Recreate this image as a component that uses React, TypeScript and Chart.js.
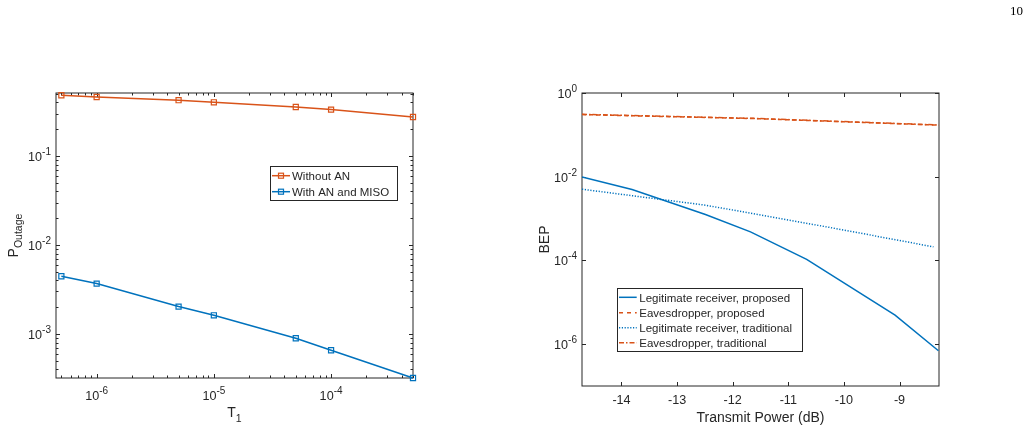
import React, { useEffect, useRef } from 'react';
import { Chart, registerables } from 'chart.js';

Chart.register(...registerables);

const FONT = '"Liberation Sans", Arial, Helvetica, sans-serif';
const TEXT = '#262626';
const ORANGE = '#D95319';
const BLUE = '#0072BD';

// ---------- Left panel data ----------
const t1Values = [5e-7, 1e-6, 5e-6, 1e-5, 5e-5, 1e-4, 5e-4];
const withoutAN = [0.481, 0.46, 0.423, 0.401, 0.355, 0.332, 0.274];
const withANMISO = [0.00445, 0.00368, 0.00203, 0.00162, 0.000895, 0.000656, 0.00032];
const leftXTickValues = [1e-6, 1e-5, 1e-4];
const leftXTickExps = ['-6', '-5', '-4'];
const leftYTickValues = [1e-1, 1e-2, 1e-3];
const leftYTickExps = ['-1', '-2', '-3'];
const leftLegendLabels = ['Without AN', 'With AN and MISO'];

// ---------- Right panel data ----------
const legitProposedX = [-14.71, -13.81, -12.49, -11.68, -10.67, -9.08, -8.3];
const legitProposedY = [0.0099, 0.00495, 0.00125, 0.000482, 0.000106, 4.95e-6, 6.95e-7];
const eveProposedX = [-14.71, -11.63, -8.29];
const eveProposedY = [0.305, 0.245, 0.17];
const legitTraditionalX = [-14.71, -13.6, -12.49, -11.38, -10.25, -8.39];
const legitTraditionalY = [0.00503, 0.00324, 0.00209, 0.00114, 0.000613, 0.000211];
const eveTraditionalX = [-14.71, -11.63, -8.29];
const eveTraditionalY = [0.31, 0.248, 0.172];
const rightXTickValues = [-14, -13, -12, -11, -10, -9];
const rightXTickLabels = ['-14', '-13', '-12', '-11', '-10', '-9'];
const rightYTickValues = [1, 1e-2, 1e-4, 1e-6];
const rightYTickExps = ['0', '-2', '-4', '-6'];
const rightLegendLabels = [
  'Legitimate receiver, proposed',
  'Eavesdropper, proposed',
  'Legitimate receiver, traditional',
  'Eavesdropper, traditional',
];

const TICK_FS = 12.6;
const EXP_FS = 10;
const TITLE_FS = 14;
const SUB_FS = 10.5;
const LEG_FS = 11.5;

type Tick = { value: number; exp?: string; text?: string };
type LegendItem = { label: string; color: string; dash: number[]; marker?: boolean };
type AxesCfg = {
  xLog: boolean;
  yLog: boolean;
  xMinor: boolean;
  yMinor: boolean;
  xTicks: Tick[];
  yTicks: Tick[];
  xTickDy: number;
  xTitle: { main: string; sub?: string; dy: number; subDy?: number };
  yTitle: { main: string; sub?: string; x: number; subDy?: number };
  legend: { x: number; y: number; w: number; h: number; rows: number[]; sampleX0: number; sampleX1: number; textX: number; items: LegendItem[] };
};

function pts(xs: number[], ys: number[]) {
  return xs.map((x, i) => ({ x, y: ys[i] }));
}

function minorLogValues(min: number, max: number) {
  const out: number[] = [];
  for (let n = Math.floor(Math.log10(min)) - 1; n <= Math.ceil(Math.log10(max)); n++) {
    for (let k = 2; k <= 9; k++) {
      const v = k * Math.pow(10, n);
      if (v >= min * 0.999 && v <= max * 1.001) out.push(v);
    }
  }
  return out;
}

function drawPow(ctx: CanvasRenderingContext2D, exp: string, x: number, y: number, align: 'center' | 'right') {
  ctx.font = `${TICK_FS}px ${FONT}`;
  const bw = ctx.measureText('10').width;
  ctx.font = `${EXP_FS}px ${FONT}`;
  const ew = ctx.measureText(exp).width;
  const total = bw + ew;
  const x0 = align === 'center' ? x - total / 2 : x - total;
  ctx.textAlign = 'left';
  ctx.textBaseline = 'alphabetic';
  ctx.font = `${TICK_FS}px ${FONT}`;
  ctx.fillText('10', x0, y);
  ctx.font = `${EXP_FS}px ${FONT}`;
  ctx.fillText(exp, x0 + bw, y - 6);
}

function drawTitle(ctx: CanvasRenderingContext2D, main: string, sub: string | undefined, cx: number, baseline: number, subDy: number) {
  ctx.font = `${TITLE_FS}px ${FONT}`;
  const mw = ctx.measureText(main).width;
  let sw = 0;
  if (sub) {
    ctx.font = `${SUB_FS}px ${FONT}`;
    sw = ctx.measureText(sub).width;
  }
  const x0 = cx - (mw + sw) / 2;
  ctx.textAlign = 'left';
  ctx.textBaseline = 'alphabetic';
  ctx.font = `${TITLE_FS}px ${FONT}`;
  ctx.fillText(main, x0, baseline);
  if (sub) {
    ctx.font = `${SUB_FS}px ${FONT}`;
    ctx.fillText(sub, x0 + mw, baseline + subDy);
  }
}

function makeAxesPlugin(id: string, cfg: AxesCfg) {
  return {
    id,
    beforeDatasetsDraw(chart: any) {
      const ctx: CanvasRenderingContext2D = chart.ctx;
      const { left, top, right, bottom } = chart.chartArea;
      const xs = chart.scales.x;
      const ys = chart.scales.y;
      ctx.save();
      // box
      ctx.strokeStyle = TEXT;
      ctx.lineWidth = 1;
      ctx.strokeRect(left, top, right - left, bottom - top);
      // ticks
      const MAJ = 4;
      const MIN = 2.5;
      ctx.beginPath();
      const xTick = (v: number, len: number) => {
        const p = Math.round(xs.getPixelForValue(v)) + 0.5;
        ctx.moveTo(p, bottom);
        ctx.lineTo(p, bottom - len);
        ctx.moveTo(p, top);
        ctx.lineTo(p, top + len);
      };
      const yTick = (v: number, len: number) => {
        const p = Math.round(ys.getPixelForValue(v)) + 0.5;
        ctx.moveTo(left, p);
        ctx.lineTo(left + len, p);
        ctx.moveTo(right, p);
        ctx.lineTo(right - len, p);
      };
      cfg.xTicks.forEach((t) => xTick(t.value, MAJ));
      cfg.yTicks.forEach((t) => yTick(t.value, MAJ));
      if (cfg.xMinor) minorLogValues(xs.min, xs.max).forEach((v) => xTick(v, MIN));
      if (cfg.yMinor) minorLogValues(ys.min, ys.max).forEach((v) => yTick(v, MIN));
      ctx.stroke();
      // tick labels
      ctx.fillStyle = TEXT;
      cfg.xTicks.forEach((t) => {
        const p = xs.getPixelForValue(t.value);
        if (t.exp !== undefined) {
          drawPow(ctx, t.exp, p, bottom + cfg.xTickDy, 'center');
        } else if (t.text !== undefined) {
          ctx.font = `${TICK_FS}px ${FONT}`;
          ctx.textAlign = 'center';
          ctx.textBaseline = 'alphabetic';
          ctx.fillText(t.text, p, bottom + cfg.xTickDy);
        }
      });
      cfg.yTicks.forEach((t) => {
        const p = ys.getPixelForValue(t.value);
        if (t.exp !== undefined) drawPow(ctx, t.exp, p === p ? left - 5 : 0, p + 5, 'right');
      });
      // axis titles
      drawTitle(ctx, cfg.xTitle.main, cfg.xTitle.sub, (left + right) / 2, bottom + cfg.xTitle.dy, cfg.xTitle.subDy || 0);
      ctx.save();
      ctx.translate(cfg.yTitle.x, (top + bottom) / 2);
      ctx.rotate(-Math.PI / 2);
      drawTitle(ctx, cfg.yTitle.main, cfg.yTitle.sub, 0, 0, cfg.yTitle.subDy || 0);
      ctx.restore();
      ctx.restore();
    },
    afterDatasetsDraw(chart: any) {
      const ctx: CanvasRenderingContext2D = chart.ctx;
      const L = cfg.legend;
      ctx.save();
      ctx.fillStyle = '#ffffff';
      ctx.fillRect(L.x, L.y, L.w, L.h);
      ctx.strokeStyle = TEXT;
      ctx.lineWidth = 1;
      ctx.strokeRect(Math.round(L.x) + 0.5, Math.round(L.y) + 0.5, Math.round(L.w), Math.round(L.h));
      L.items.forEach((it, i) => {
        const cy = L.rows[i];
        ctx.strokeStyle = it.color;
        ctx.lineWidth = 1.5;
        ctx.setLineDash(it.dash);
        ctx.beginPath();
        ctx.moveTo(L.sampleX0, cy);
        ctx.lineTo(L.sampleX1, cy);
        ctx.stroke();
        ctx.setLineDash([]);
        if (it.marker) {
          const mx = (L.sampleX0 + L.sampleX1) / 2;
          ctx.lineWidth = 1.2;
          ctx.strokeRect(mx - 2.5, cy - 2.5, 5, 5);
        }
        ctx.fillStyle = TEXT;
        ctx.font = `${LEG_FS}px ${FONT}`;
        ctx.textAlign = 'left';
        ctx.textBaseline = 'alphabetic';
        ctx.fillText(it.label, L.textX, cy + 4.2);
      });
      ctx.restore();
    },
  };
}

function LeftChart() {
  const ref = useRef<HTMLCanvasElement | null>(null);
  useEffect(() => {
    if (!ref.current) return;
    const cfg: AxesCfg = {
      xLog: true,
      yLog: true,
      xMinor: true,
      yMinor: true,
      xTicks: leftXTickValues.map((v, i) => ({ value: v, exp: leftXTickExps[i] })),
      yTicks: leftYTickValues.map((v, i) => ({ value: v, exp: leftYTickExps[i] })),
      xTickDy: 22,
      xTitle: { main: 'T', sub: '1', dy: 39, subDy: 5 },
      yTitle: { main: 'P', sub: 'Outage', x: 18, subDy: 4 },
      legend: {
        x: 270, y: 166, w: 126.5, h: 34,
        rows: [175.7, 191.7],
        sampleX0: 272, sampleX1: 290, textX: 292,
        items: [
          { label: leftLegendLabels[0], color: ORANGE, dash: [], marker: true },
          { label: leftLegendLabels[1], color: BLUE, dash: [], marker: true },
        ],
      },
    };
    const chart = new Chart(ref.current, {
      type: 'line',
      data: {
        datasets: [
          {
            label: leftLegendLabels[0],
            data: pts(t1Values, withoutAN),
            borderColor: ORANGE,
            backgroundColor: 'rgba(0,0,0,0)',
            borderWidth: 1.5,
            pointStyle: 'rect',
            pointRadius: 3.6,
            pointBorderWidth: 1.2,
            pointBorderColor: ORANGE,
            pointBackgroundColor: 'rgba(255,255,255,0)',
            tension: 0,
            clip: false as any,
          },
          {
            label: leftLegendLabels[1],
            data: pts(t1Values, withANMISO),
            borderColor: BLUE,
            backgroundColor: 'rgba(0,0,0,0)',
            borderWidth: 1.5,
            pointStyle: 'rect',
            pointRadius: 3.6,
            pointBorderWidth: 1.2,
            pointBorderColor: BLUE,
            pointBackgroundColor: 'rgba(255,255,255,0)',
            tension: 0,
            clip: false as any,
          },
        ],
      },
      options: {
        responsive: false,
        animation: false,
        events: [],
        layout: { padding: { left: 56, top: 93, right: 87, bottom: 55 } },
        plugins: { legend: { display: false }, tooltip: { enabled: false } },
        scales: {
          x: { type: 'logarithmic', display: false, min: 4.5e-7, max: 5e-4, bounds: 'data' },
          y: { type: 'logarithmic', display: false, min: 3.2e-4, max: 0.51, bounds: 'data' },
        },
      },
      plugins: [makeAxesPlugin('leftAxes', cfg)],
    });
    return () => chart.destroy();
  }, []);
  return <canvas ref={ref} width={500} height={433} style={{ position: 'absolute', left: 0, top: 0, width: 500, height: 433 }} />;
}

function RightChart() {
  const ref = useRef<HTMLCanvasElement | null>(null);
  useEffect(() => {
    if (!ref.current) return;
    const dashProposed = [4, 3];
    const dashDot = [5, 2, 1.5, 2];
    const dotted = [1.2, 1.6];
    const cfg: AxesCfg = {
      xLog: false,
      yLog: true,
      xMinor: false,
      yMinor: false,
      xTicks: rightXTickValues.map((v, i) => ({ value: v, text: rightXTickLabels[i] })),
      yTicks: rightYTickValues.map((v, i) => ({ value: v, exp: rightYTickExps[i] })),
      xTickDy: 17.5,
      xTitle: { main: 'Transmit Power (dB)', dy: 36 },
      yTitle: { main: 'BEP', x: 48.5 },
      legend: {
        x: 116.7, y: 288.3, w: 185, h: 63.4,
        rows: [297.3, 312.7, 327.7, 342.7],
        sampleX0: 119, sampleX1: 136.7, textX: 139.3,
        items: [
          { label: rightLegendLabels[0], color: BLUE, dash: [] },
          { label: rightLegendLabels[1], color: ORANGE, dash: [4, 4] },
          { label: rightLegendLabels[2], color: BLUE, dash: dotted },
          { label: rightLegendLabels[3], color: ORANGE, dash: dashDot },
        ],
      },
    };
    const base = { backgroundColor: 'rgba(0,0,0,0)', borderWidth: 1.5, pointRadius: 0, tension: 0 };
    const chart = new Chart(ref.current, {
      type: 'line',
      data: {
        datasets: [
          { ...base, label: rightLegendLabels[3], data: pts(eveTraditionalX, eveTraditionalY), borderColor: ORANGE, borderDash: dashDot },
          { ...base, label: rightLegendLabels[2], data: pts(legitTraditionalX, legitTraditionalY), borderColor: BLUE, borderDash: dotted },
          { ...base, label: rightLegendLabels[1], data: pts(eveProposedX, eveProposedY), borderColor: ORANGE, borderDash: dashProposed },
          { ...base, label: rightLegendLabels[0], data: pts(legitProposedX, legitProposedY), borderColor: BLUE },
        ],
      },
      options: {
        responsive: false,
        animation: false,
        events: [],
        layout: { padding: { left: 82, top: 93, right: 91, bottom: 47 } },
        plugins: { legend: { display: false }, tooltip: { enabled: false } },
        scales: {
          x: { type: 'linear', display: false, min: -14.71, max: -8.29, bounds: 'data' },
          y: { type: 'logarithmic', display: false, min: 1e-7, max: 1, bounds: 'data' },
        },
      },
      plugins: [makeAxesPlugin('rightAxes', cfg)],
    });
    return () => chart.destroy();
  }, []);
  return <canvas ref={ref} width={530} height={433} style={{ position: 'absolute', left: 500, top: 0, width: 530, height: 433 }} />;
}

export default function App() {
  return (
    <div style={{ position: 'absolute', left: 0, top: 0, width: 1030, height: 433, background: '#ffffff', overflow: 'hidden' }}>
      <LeftChart />
      <RightChart />
      <div
        style={{
          position: 'absolute',
          left: 1010,
          top: 3,
          fontFamily: '"Liberation Serif", "Times New Roman", serif',
          fontSize: 13,
          lineHeight: 'normal',
          color: '#000',
        }}
      >
        10
      </div>
    </div>
  );
}
